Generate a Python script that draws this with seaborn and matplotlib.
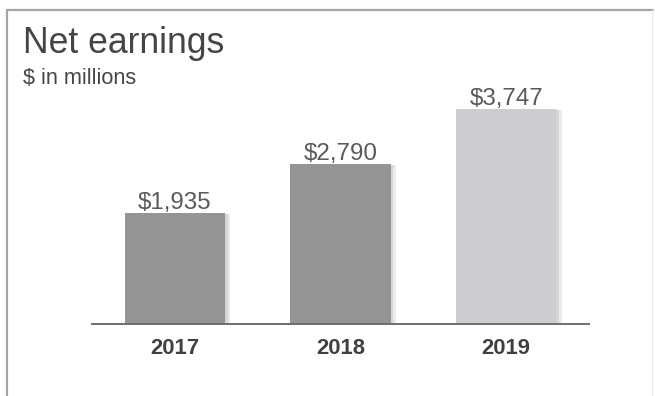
import matplotlib
matplotlib.use("Agg")
import matplotlib.pyplot as plt
import matplotlib.patheffects as pe
from matplotlib.lines import Line2D
import seaborn as sns
import pandas as pd

# Net earnings by fiscal year, $ in millions
years = ["2017", "2018", "2019"]
earnings = [1935, 2790, 3747]
bar_colors = ["#959595", "#959595", "#cdcdcf"]

sns.set_style("white")
plt.rcParams["font.family"] = ["Liberation Sans", "DejaVu Sans"]

df = pd.DataFrame({"year": years, "earnings": earnings})

fig = plt.figure(figsize=(6.55, 3.96), dpi=100)
ax = fig.add_axes([92 / 655, 72 / 396, 497 / 655, 284 / 396])

sns.barplot(data=df, x="year", y="earnings", hue="year", palette=bar_colors,
            width=0.604, legend=False, ax=ax, saturation=1)

# soft drop shadow on the bars
for patch in ax.patches:
    patch.set_edgecolor("none")
    patch.set_path_effects([
        pe.SimplePatchShadow(offset=(4, -1), shadow_rgbFace="#d6d6d6", alpha=0.5),
        pe.SimplePatchShadow(offset=(2, -1), shadow_rgbFace="#c8c8c8", alpha=0.6),
        pe.Normal(),
    ])

ax.set_xlim(-0.5, 2.5)
ax.set_ylim(0, 284 / 0.0574)

# value labels above each bar
for i, v in enumerate(earnings):
    ax.annotate(f"${v:,}", xy=(i, v), xytext=(0, 3), textcoords="offset points",
                ha="center", va="baseline", fontsize=17.4, color="#5a5a5a")

ax.set_xlabel("")
ax.set_ylabel("")
ax.set_yticks([])
ax.tick_params(axis="x", length=0, pad=10)
for lbl in ax.get_xticklabels():
    lbl.set_fontsize(15.8)
    lbl.set_fontweight("bold")
    lbl.set_color("#404040")

for side in ["top", "right", "left"]:
    ax.spines[side].set_visible(False)
ax.spines["bottom"].set_color("#6e6e6e")
ax.spines["bottom"].set_linewidth(1.4)

# titles
fig.text(23 / 655, 1 - 53 / 396, "Net earnings", fontsize=25.6, color="#454545",
         ha="left", va="baseline")
fig.text(23 / 655, 1 - 84 / 396, "$ in millions", fontsize=15.6, color="#454545",
         ha="left", va="baseline")

# panel frame
fig.add_artist(Line2D([7 / 655, 653 / 655], [1 - 10 / 396, 1 - 10 / 396],
                      transform=fig.transFigure, color="#a5a5a5", lw=1.6))
fig.add_artist(Line2D([7 / 655, 7 / 655], [1 - 10 / 396, 0],
                      transform=fig.transFigure, color="#a5a5a5", lw=1.6))
fig.add_artist(Line2D([652 / 655, 652 / 655], [1 - 10 / 396, 0],
                      transform=fig.transFigure, color="#ececec", lw=1.0))

fig.savefig("out.png", dpi=100)
